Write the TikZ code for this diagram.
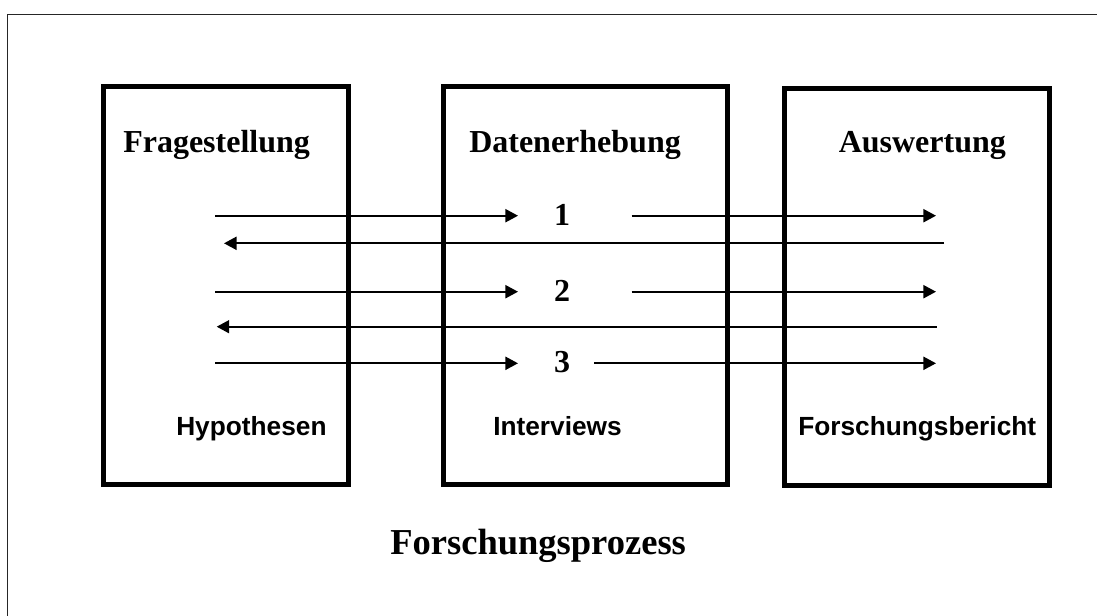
\documentclass[tikz,border=0pt]{standalone}
\usepackage{fontspec}
\setmainfont{Liberation Serif}
\newfontfamily\arialfont{Liberation Sans}
\usetikzlibrary{arrows.meta,fit}
\begin{document}
\begin{tikzpicture}[x=0.75pt,y=-0.75pt,
  frame/.style={draw=black!85, line width=1.1pt},
  box/.style={draw, line width=3.75pt, inner sep=0pt},
  head/.style={font=\bfseries\fontsize{24}{28}\selectfont, anchor=base west, inner sep=0pt},
  sub/.style={font=\arialfont\bfseries\fontsize{19.7}{23}\selectfont, anchor=base west, inner sep=0pt},
  num/.style={font=\bfseries\fontsize{24}{28}\selectfont, anchor=base, inner sep=0pt},
  title/.style={font=\bfseries\fontsize{27.4}{32}\selectfont, anchor=base west, inner sep=0pt},
  flow/.style={line width=1.25pt, -{Triangle[length=9.4pt,width=9.8pt]}},
]
\useasboundingbox (0,0) rectangle (1097,615);
% outer frame (runs off the page at right and bottom)
\draw[frame] (7.5,640) -- (7.5,14.5) -- (1130,14.5);

% boxes
\node[box, fit={(103,86) (348.5,484)}] (b1) {};
\node[box, fit={(443.5,86) (727.5,484)}] (b2) {};
\node[box, fit={(784,88) (1049.5,485.5)}] (b3) {};

% headings
\node[head] (h1) at (123,152.5) {Fragestellung};
\node[head] (h2) at (469,152) {Datenerhebung};
\node[head] (h3) at (838.5,152) {Auswertung};

% bottom labels
\node[sub] (s1) at (176,435.5) {Hypothesen};
\node[sub] (s2) at (493,435.5) {Interviews};
\node[sub] (s3) at (798,435.5) {Forschungsbericht};

% numbers
\node[num] (n1) at (562,225) {1};
\node[num] (n2) at (562,301) {2};
\node[num] (n3) at (562,372.5) {3};

% title
\node[title] (t) at (390,554) {Forschungsprozess};

% arrow end points
\coordinate (r1a) at (215,215.7);
\coordinate (r1b) at (518,215.7);
\coordinate (r1c) at (631.7,215.7);
\coordinate (r1d) at (936,215.7);
\coordinate (r2a) at (944,243.3);
\coordinate (r2b) at (224,243.3);
\coordinate (r3a) at (215,291.7);
\coordinate (r3b) at (518,291.7);
\coordinate (r3c) at (631.7,291.7);
\coordinate (r3d) at (936,291.7);
\coordinate (r4a) at (936.7,326.7);
\coordinate (r4b) at (216.7,326.7);
\coordinate (r5a) at (215,363.3);
\coordinate (r5b) at (518,363.3);
\coordinate (r5c) at (594,363.3);
\coordinate (r5d) at (936,363.3);

\draw[flow] (r1a) -- (r1b);
\draw[flow] (r1c) -- (r1d);
\draw[flow] (r2a) -- (r2b);
\draw[flow] (r3a) -- (r3b);
\draw[flow] (r3c) -- (r3d);
\draw[flow] (r4a) -- (r4b);
\draw[flow] (r5a) -- (r5b);
\draw[flow] (r5c) -- (r5d);
\end{tikzpicture}
\end{document}
